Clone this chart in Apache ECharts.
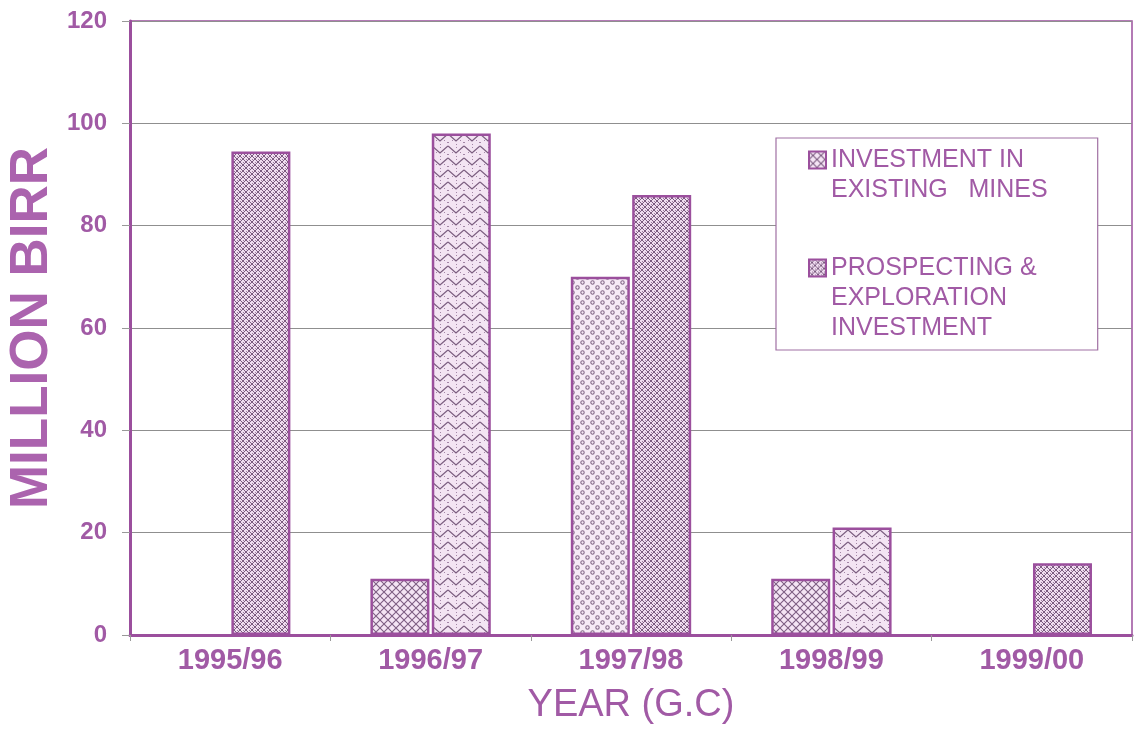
<!DOCTYPE html>
<html>
<head>
<meta charset="utf-8">
<script src="https://cdn.jsdelivr.net/npm/echarts@6/dist/echarts.min.js"></script>
<style>
  html, body { margin: 0; padding: 0; background: #fff; }
  #chart { width: 1135px; height: 753px; }
</style>
</head>
<body>
<div id="chart"></div>
<script>
// data
const years = ["1995/96", "1996/97", "1997/98", "1998/99", "1999/00"];
const existingMines = [null, 11, 70, 11, null];
const prospecting = [94.5, 98, 86, 21, 14];
const seriesNames = ["INVESTMENT IN\nEXISTING   MINES", "PROSPECTING &\nEXPLORATION\nINVESTMENT"];

const purple = "#9b4f9d";
const labelColor = "#a15aa5";
const font = "'Liberation Sans', Arial, sans-serif";

// hatch fills, drawn on small canvases
function makePattern(w, h, bg, draw) {
  const c = document.createElement("canvas");
  c.width = w; c.height = h;
  const ctx = c.getContext("2d");
  ctx.fillStyle = bg;
  ctx.fillRect(0, 0, w, h);
  draw(ctx);
  return { image: c, repeat: "repeat" };
}

const zigzag = makePattern(16, 12, "#f3e4f3", ctx => {
  ctx.strokeStyle = "#7a5d7f";
  ctx.lineWidth = 1.3;
  ctx.beginPath();
  ctx.moveTo(0, 2); ctx.lineTo(8, 9); ctx.lineTo(16, 2);
  ctx.stroke();
  ctx.fillStyle = "#a386a6";
  [[4, 8], [12, 8], [8, 3], [0, 10], [15, 10], [8, 0]].forEach(p => ctx.fillRect(p[0], p[1], 1, 1));
});

const crossHatch = makePattern(8, 8, "#f4e4f4", ctx => {
  ctx.strokeStyle = "#7d5e82";
  ctx.lineWidth = 1.1;
  ctx.beginPath();
  ctx.moveTo(0, 0); ctx.lineTo(8, 8);
  ctx.moveTo(8, 0); ctx.lineTo(0, 8);
  ctx.stroke();
});

const circles = makePattern(10, 10, "#f6eaf6", ctx => {
  ctx.strokeStyle = "#856a8a";
  ctx.lineWidth = 1.1;
  ctx.beginPath();
  ctx.arc(2.5, 2.5, 1.7, 0, Math.PI * 2);
  ctx.moveTo(9.2, 7.5);
  ctx.arc(7.5, 7.5, 1.7, 0, Math.PI * 2);
  ctx.stroke();
});

const denseHatch = makePattern(6, 6, "#efdcef", ctx => {
  ctx.strokeStyle = "#7a5b7f";
  ctx.lineWidth = 1;
  ctx.beginPath();
  ctx.moveTo(0, 0); ctx.lineTo(6, 6);
  ctx.moveTo(6, 0); ctx.lineTo(0, 6);
  ctx.stroke();
  ctx.fillStyle = "#9c7c9f";
  ctx.fillRect(3, 0, 1, 1);
  ctx.fillRect(0, 3, 1, 1);
});

const existingFills = [crossHatch, crossHatch, circles, crossHatch, crossHatch];
const prospectFills = [denseHatch, zigzag, denseHatch, zigzag, denseHatch];

const chart = echarts.init(document.getElementById("chart"));

chart.setOption({
  backgroundColor: "#fff",
  animation: false,
  textStyle: { fontFamily: font },
  grid: {
    left: 130, right: 3, top: 21, bottom: 118,
    outerBoundsMode: "none",
    containLabel: false,
    show: true, borderColor: purple, borderWidth: 1.5
  },
  legend: {
    orient: "vertical",
    left: 776, top: 138,
    padding: [-23, 50, 7, 32],
    itemGap: -12,
    itemWidth: 17, itemHeight: 17,
    itemTextGap: 8,
    backgroundColor: "#fff",
    borderColor: "#a070a3",
    borderWidth: 1.2,
    icon: "rect",
    selectedMode: false,
    // leading blank lines keep each swatch level with the first text line
    formatter: name => (name === seriesNames[0] ? "\n" : "\n\n") + name,
    textStyle: { color: labelColor, fontSize: 25, lineHeight: 30, fontFamily: font },
    data: seriesNames
  },
  xAxis: {
    type: "category",
    data: years,
    name: "YEAR (G.C)",
    nameLocation: "middle",
    nameGap: 52,
    nameTextStyle: { color: labelColor, fontSize: 38, fontFamily: font },
    axisLine: { lineStyle: { color: purple, width: 3 } },
    axisTick: { show: true, length: 6, lineStyle: { color: "#999" } },
    axisLabel: { color: labelColor, fontSize: 29, fontWeight: "bold", margin: 11 },
    splitLine: { show: false }
  },
  yAxis: {
    type: "value",
    min: 0, max: 120, interval: 20,
    name: "MILLION BIRR",
    nameLocation: "middle",
    nameGap: 71,
    nameMoveOverlap: false,
    nameTextStyle: { color: "#ab63ae", fontSize: 53, fontWeight: "bold", fontFamily: font },
    axisLine: { show: true, lineStyle: { color: purple, width: 3 } },
    axisTick: { show: true, length: 8, lineStyle: { color: "#999" } },
    axisLabel: { color: labelColor, fontSize: 24, fontWeight: "bold", margin: 23 },
    splitLine: { lineStyle: { color: "#8f8f8f", width: 1 } }
  },
  series: [
    {
      name: seriesNames[0],
      type: "bar",
      barWidth: 59,
      barGap: "4%",
      itemStyle: { color: crossHatch, borderColor: purple, borderWidth: 2.5 },
      data: existingMines.map((v, i) => v == null ? null : { value: v, itemStyle: { color: existingFills[i] } })
    },
    {
      name: seriesNames[1],
      type: "bar",
      barWidth: 59,
      barGap: "4%",
      itemStyle: { color: denseHatch, borderColor: purple, borderWidth: 2.5 },
      data: prospecting.map((v, i) => ({ value: v, itemStyle: { color: prospectFills[i] } }))
    }
  ]
});
</script>
</body>
</html>
